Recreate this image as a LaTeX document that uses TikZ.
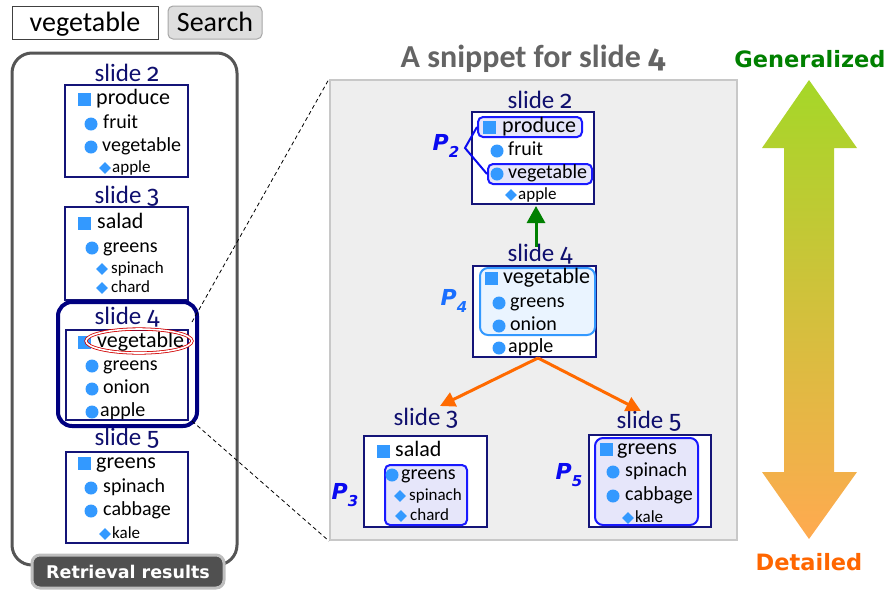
\documentclass[tikz,border=0pt]{standalone}
\usepackage{fontspec}
\setmainfont{Carlito}
\newfontfamily\osf{Fira Sans}[Numbers=OldStyle]
\newfontfamily\dvs{DejaVu Sans}
\usetikzlibrary{arrows.meta,shapes.geometric,fit}
\definecolor{cNavy}{RGB}{20,20,120}
\definecolor{cTitle}{RGB}{15,15,110}
\definecolor{cHiNavy}{RGB}{0,0,128}
\definecolor{cBul}{RGB}{51,153,255}
\definecolor{cHl}{RGB}{25,25,255}
\definecolor{cHlF}{RGB}{230,230,250}
\definecolor{cHlFour}{RGB}{51,153,255}
\definecolor{cHlFourF}{RGB}{234,244,255}
\definecolor{cPblue}{RGB}{10,10,240}
\definecolor{cPfour}{RGB}{26,111,255}
\definecolor{cOrange}{RGB}{255,106,0}
\definecolor{cGreen}{RGB}{0,128,0}
\definecolor{cPanel}{RGB}{238,238,238}
\definecolor{cPanelB}{RGB}{200,200,200}
\definecolor{cFrame}{RGB}{85,85,85}
\definecolor{cDark}{RGB}{80,80,80}
\definecolor{cLight}{RGB}{190,190,190}
\definecolor{cRed}{RGB}{210,0,0}
\definecolor{cSnip}{RGB}{100,100,100}
\definecolor{cDet}{RGB}{255,102,0}
\newcommand\itm[7]{\node[#2] (#1b) at (#4,#6) {}; \node[#3] (#1t) at (#5,#6) {#7};}
\newcommand\Psub[1]{P\raisebox{-7pt}{\fontsize{15}{15}\selectfont #1}}
\newcommand\sld[1]{slide {\osf #1}}
\tikzset{
  slidebox/.style={draw=cNavy, line width=1.8pt, fill=white, inner sep=0pt},
  ttl/.style={font=\fontsize{25}{28}\selectfont, text=cTitle, inner sep=0pt, anchor=base, yshift=-5.9pt},
  it1/.style={font=\fontsize{22}{24}\selectfont, inner sep=0pt, anchor=base west, yshift=-5.2pt},
  it2/.style={font=\fontsize{20}{22}\selectfont, inner sep=0pt, anchor=base west, yshift=-4.7pt},
  it3/.style={font=\fontsize{17}{19}\selectfont, inner sep=0pt, anchor=base west, yshift=-4pt},
  sqb/.style={rectangle, fill=cBul, minimum size=13pt, inner sep=0pt},
  cib/.style={circle, fill=cBul, minimum size=13pt, inner sep=0pt},
  dmb/.style={diamond, fill=cBul, minimum size=12pt, inner sep=0pt},
  hlbox/.style={draw=cHl, line width=2pt, fill=cHlF, rounded corners=5pt, inner sep=0pt},
  hlfour/.style={draw=cHlFour, line width=2pt, fill=cHlFourF, rounded corners=8pt, inner sep=0pt},
  plab/.style={font=\dvs\bfseries\itshape\fontsize{22}{22}\selectfont, inner sep=0pt, anchor=center},
  oarrow/.style={draw=cOrange, line width=3pt, -{Triangle[length=15pt,width=15pt]}},
  garrow/.style={draw=cGreen, line width=3pt, -{Triangle[length=17pt,width=18pt]}},
  dashln/.style={draw=black, line width=0.8pt, dash pattern=on 4pt off 3pt},
}
\begin{document}
\begin{tikzpicture}[x=1pt,y=-1pt]
\useasboundingbox (0,0) rectangle (890,590);
% search bar
\node[fit={(12,6)(158,39)}, draw=black!75, line width=1pt, inner sep=0pt] (sbox) {};
\node[font=\fontsize{28}{30}\selectfont, inner sep=0pt, anchor=base, yshift=-6.5pt] (stext) at (85,24.5) {vegetable};
\node[fit={(168,6)(262,39)}, draw=black!35, fill=black!13, line width=1pt, rounded corners=5pt, inner sep=0pt] (sbtn) {};
\node[font=\fontsize{28}{30}\selectfont, inner sep=0pt, anchor=base, yshift=-6.5pt] (sbtext) at (215,24.5) {Search};
% left panel
\node[fit={(12,53)(237,565)}, draw=cFrame, line width=3pt, rounded corners=20pt, inner sep=0pt] (leftpanel) {};
\node[fit={(32,555)(224,588)}, fill=cDark, draw=cLight, line width=3pt, rounded corners=8pt, inner sep=0pt] (rrbox) {};
\node[font=\dvs\bfseries\fontsize{17.5}{20}\selectfont, text=white, inner sep=0pt, anchor=base, yshift=-4.9pt] (rrtext) at (128,574) {Retrieval results};
% left slide 2
\node[ttl] (L2t) at (127,76) {\sld{2}};
\node[slidebox, fit={(65,85)(188,177)}] (L2box) {};
\itm{L2a}{sqb}{it1}{84}{96}{99}{produce}
\itm{L2b}{cib}{it2}{91}{103}{124}{fruit}
\itm{L2c}{cib}{it2}{91}{102}{147}{vegetable}
\itm{L2d}{dmb}{it3}{105}{112}{168}{apple}
% left slide 3
\node[ttl] (L3t) at (127,198) {\sld{3}};
\node[slidebox, fit={(65,207)(188,300)}] (L3box) {};
\itm{L3a}{sqb}{it1}{84.5}{97}{223}{salad}
\itm{L3b}{cib}{it2}{92}{103}{248}{greens}
\itm{L3c}{dmb}{it3}{102}{111}{269}{spinach}
\itm{L3d}{dmb}{it3}{102}{111}{288}{chard}
% left slide 4 (selected)
\node[fit={(58,302)(197,426)}, draw=cHiNavy, line width=4pt, rounded corners=14pt, inner sep=0pt] (L4hl) {};
\node[ttl] (L4t) at (127,319) {\sld{4}};
\node[slidebox, fit={(66,330)(188,420)}] (L4box) {};
\itm{L4a}{sqb}{it1}{84.5}{97}{342}{vegetable}
\node[ellipse, draw=cRed, line width=0.8pt, double=white, double distance=1.6pt, minimum width=106pt, minimum height=24pt, inner sep=0pt] (redell) at (139,341) {};
\itm{L4b}{cib}{it2}{92}{103}{366}{greens}
\itm{L4c}{cib}{it2}{92}{103}{389}{onion}
\itm{L4d}{cib}{it2}{92}{100}{412}{apple}
% left slide 5
\node[ttl] (L5t) at (127,440) {\sld{5}};
\node[slidebox, fit={(66,452)(188,543)}] (L5box) {};
\itm{L5a}{sqb}{it1}{84}{96}{463}{greens}
\itm{L5b}{cib}{it2}{91}{103}{488}{spinach}
\itm{L5c}{cib}{it2}{91}{103}{511}{cabbage}
\itm{L5d}{dmb}{it3}{105}{112}{534}{kale}
% snippet panel
\node[font=\bfseries\fontsize{32}{34}\selectfont, text=cSnip, inner sep=0pt, anchor=base, yshift=-7.5pt] (sniptitle) at (533,60) {A snippet for slide {\osf\bfseries 4}};
\node[fit={(330,80)(737,540)}, fill=cPanel, draw=cPanelB, line width=2pt, inner sep=0pt] (panel) {};
\coordinate (dA) at (192,322);
\coordinate (dB) at (192,421);
\draw[dashln] (dA) -- (panel.north west);
\draw[dashln] (dB) -- (panel.south west);
% right slide 2
\node[ttl] (R2t) at (540,103) {\sld{2}};
\node[slidebox, fit={(472,112)(594,204)}] (R2box) {};
\node[hlbox, fit={(478,117)(582,137)}] (hlP) {};
\node[hlbox, fit={(488,164)(592,184)}] (hlV) {};
\itm{R2a}{sqb}{it1}{489.5}{502}{127}{produce}
\itm{R2b}{cib}{it2}{497}{508}{151}{fruit}
\itm{R2c}{cib}{it2}{497}{508}{174}{vegetable}
\itm{R2d}{dmb}{it3}{511}{518}{195}{apple}
\node[plab, text=cPblue] (P2) at (446,146) {\Psub{2}};
\coordinate (p2v) at (465,148);
\draw[draw=cPblue, line width=2pt] (hlP.west) -- (p2v) -- (hlV.west);
% right slide 4
\node[ttl] (R4t) at (540,256) {\sld{4}};
\node[slidebox, fit={(473,266)(596,357)}] (R4box) {};
\node[hlfour, fit={(480,268)(595,335)}] (hl4) {};
\itm{R4a}{sqb}{it1}{491.5}{503}{278.5}{vegetable}
\itm{R4b}{cib}{it2}{499}{510}{303}{greens}
\itm{R4c}{cib}{it2}{499}{510}{326}{onion}
\itm{R4d}{cib}{it2}{499}{508}{348}{apple}
\node[plab, text=cPfour] (P4) at (454,301) {\Psub{4}};
% green arrow
\coordinate (gS) at (536,247);
\coordinate (gE) at (536,206);
\draw[garrow] (gS) -- (gE);
% right slide 3
\node[ttl] (R3t) at (426,420) {\sld{3}};
\node[slidebox, fit={(364,436)(487,527)}] (R3box) {};
\node[hlbox, fit={(385,465)(467,525)}] (hl3) {};
\itm{R3a}{sqb}{it1}{383.5}{395}{451}{salad}
\itm{R3b}{cib}{it2}{392}{401}{475}{greens}
\itm{R3c}{dmb}{it3}{400}{409}{496}{spinach}
\itm{R3d}{dmb}{it3}{401}{410}{516}{chard}
\node[plab, text=cPblue] (P3) at (345,495) {\Psub{3}};
% right slide 5
\node[ttl] (R5t) at (649,423) {\sld{5}};
\node[slidebox, fit={(589,435)(711,527)}] (R5box) {};
\node[hlbox, fit={(595,438)(698,525)}, rounded corners=8pt] (hl5) {};
\itm{R5a}{sqb}{it1}{606.5}{617}{449}{greens}
\itm{R5b}{cib}{it2}{613}{625}{472}{spinach}
\itm{R5c}{cib}{it2}{613}{625}{496}{cabbage}
\itm{R5d}{dmb}{it3}{628}{635}{518}{kale}
\node[plab, text=cPblue] (P5) at (569,475) {\Psub{5}};
% orange arrows
\coordinate (oS) at (538,358);
\coordinate (oL) at (440,406);
\coordinate (oR) at (641,411);
\draw[oarrow] (oS) -- (oL);
\draw[oarrow] (oS) -- (oR);
% big gradient arrow
\shade[top color={rgb,255:red,165;green,215;blue,40}, middle color={rgb,255:red,218;green,200;blue,60}, bottom color={rgb,255:red,255;green,170;blue,80}]
  (809,80) -- (857,148) -- (834,148) -- (834,472) -- (857,472) -- (809,539) -- (762,472) -- (784,472) -- (784,148) -- (762,148) -- cycle;
\node[font=\dvs\bfseries\fontsize{22.5}{24}\selectfont, text=cGreen, inner sep=0pt, anchor=base, yshift=-6.3pt] (gen) at (810,61) {Generalized};
\node[font=\dvs\bfseries\fontsize{22.5}{24}\selectfont, text=cDet, inner sep=0pt, anchor=base, yshift=-6.3pt] (det) at (809,564) {Detailed};
\end{tikzpicture}
\end{document}
